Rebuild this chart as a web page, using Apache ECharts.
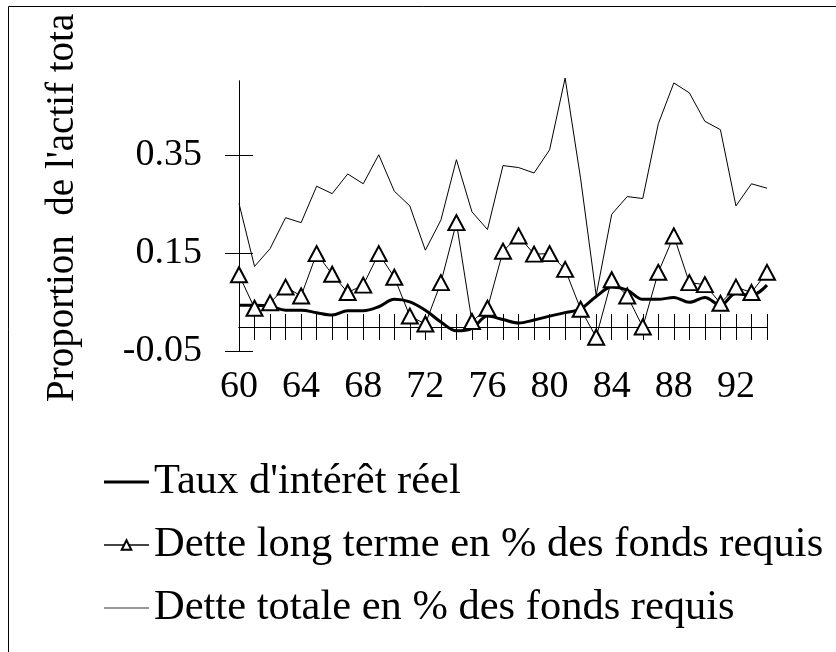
<!DOCTYPE html>
<html>
<head>
<meta charset="utf-8">
<script src="https://cdn.jsdelivr.net/npm/echarts@6/dist/echarts.min.js"></script>
<style>
html,body{margin:0;padding:0;background:#fff;}
#chart{width:836px;height:652px;}
</style>
</head>
<body>
<div id="chart"></div>
<script>
const years = ['60','61','62','63','64','65','66','67','68','69','70','71','72','73','74','75','76','77','78','79','80','81','82','83','84','85','86','87','88','89','90','91','92','93','94'];
const tauxReel = [0.044,0.044,0.042,0.034,0.034,0.029,0.024,0.033,0.033,0.041,0.056,0.051,0.034,0.010,-0.008,-0.003,0.022,0.015,0.008,0.014,0.022,0.029,0.037,0.062,0.081,0.075,0.056,0.056,0.060,0.050,0.060,0.044,0.068,0.064,0.085];
const detteLongTerme = [0.106,0.038,0.049,0.081,0.063,0.149,0.107,0.070,0.085,0.149,0.101,0.022,0.006,0.090,0.212,0.011,0.038,0.154,0.185,0.148,0.149,0.117,0.036,-0.021,0.096,0.063,0.000,0.111,0.185,0.090,0.086,0.048,0.081,0.070,0.111];
const detteTotale = [0.251,0.123,0.159,0.222,0.212,0.286,0.271,0.311,0.291,0.350,0.276,0.246,0.156,0.217,0.340,0.234,0.198,0.328,0.324,0.313,0.360,0.506,0.301,0.064,0.229,0.265,0.261,0.413,0.496,0.476,0.418,0.401,0.246,0.291,0.282];
const yTickValues = [-0.05, 0.15, 0.35];
const seriesNames = ["Taux d'intérêt réel", "Dette long terme en % des fonds requis", "Dette totale en % des fonds requis"];
const yTitle = "Proportion  de l'actif tota";

const FONT = 'Liberation Serif';
const chart = echarts.init(document.getElementById('chart'), null, {renderer: 'canvas'});

const option = {
  backgroundColor: '#fff',
  animation: false,
  textStyle: {fontFamily: FONT, color: '#000'},
  grid: {left: 239, right: 69, top: 81, height: 270.5, containLabel: false},
  xAxis: [
    {
      type: 'category', data: years, boundaryGap: false, position: 'bottom',
      axisLine: {onZero: true, lineStyle: {color: '#000', width: 1}},
      axisTick: {show: true, interval: 0, length: 13, lineStyle: {color: '#000', width: 1}},
      axisLabel: {interval: 3, margin: 17, fontSize: 38, fontFamily: FONT, color: '#000'},
      splitLine: {show: false}
    },
    {
      type: 'category', data: years, boundaryGap: false, position: 'top',
      axisLine: {onZero: true, lineStyle: {color: '#000', width: 1}},
      axisTick: {show: true, interval: 0, length: 13, lineStyle: {color: '#000', width: 1}},
      axisLabel: {show: false},
      splitLine: {show: false}
    }
  ],
  yAxis: [
    {
      type: 'value', min: -0.05, max: 0.5, position: 'left',
      axisLine: {show: true, lineStyle: {color: '#000', width: 1}},
      axisTick: {show: true, length: 14, customValues: yTickValues, lineStyle: {color: '#000', width: 1}},
      axisLabel: {customValues: yTickValues, margin: 37, fontSize: 38, fontFamily: FONT, color: '#000',
        formatter: v => v.toFixed(2)},
      splitLine: {show: false}
    },
    {
      type: 'value', min: -0.05, max: 0.5, position: 'left',
      axisLine: {show: true, lineStyle: {color: '#000', width: 1}},
      axisTick: {show: true, inside: true, length: 14, customValues: yTickValues, lineStyle: {color: '#000', width: 1}},
      axisLabel: {show: false},
      splitLine: {show: false}
    }
  ],
  legend: {
    orient: 'vertical', left: 98, top: 454,
    itemWidth: 45, itemHeight: 12, itemGap: 17,
    textStyle: {fontFamily: FONT, fontSize: 42.5, color: '#000', lineHeight: 46},
    data: [
      {name: seriesNames[0], icon: 'path://M0,0 M45,12 M0,4.5 h45 v3 h-45 z', itemStyle: {color: '#000', borderWidth: 0}},
      {name: seriesNames[1], lineStyle: {color: '#444'}},
      {name: seriesNames[2], icon: 'path://M0,0 M45,12 M0,5.5 h45 v1 h-45 z', itemStyle: {color: '#333', borderWidth: 0}}
    ]
  },
  series: [
    {
      name: seriesNames[0], type: 'line', data: tauxReel, xAxisIndex: 0, yAxisIndex: 0,
      symbol: 'none', smooth: 0.35, clip: false, z: 3,
      lineStyle: {color: '#000', width: 3}, itemStyle: {color: '#000'}
    },
    {
      name: seriesNames[1], type: 'line', data: detteLongTerme, xAxisIndex: 0, yAxisIndex: 0,
      symbol: 'triangle', symbolSize: [16, 15], showAllSymbol: true, clip: false, z: 4,
      lineStyle: {color: '#000', width: 1},
      itemStyle: {color: '#fff', borderColor: '#000', borderWidth: 2}
    },
    {
      name: seriesNames[2], type: 'line', data: detteTotale, xAxisIndex: 0, yAxisIndex: 0,
      symbol: 'none', clip: false, z: 2,
      lineStyle: {color: '#000', width: 1}, itemStyle: {color: '#000'}
    }
  ],
  graphic: [
    {type: 'rect', shape: {x: 8.5, y: 6.5, width: 900, height: 700}, style: {fill: 'none', stroke: '#000', lineWidth: 1}, z: 0, silent: true},
    {type: 'text', x: 63, y: 402, rotation: Math.PI / 2,
      style: {text: yTitle, fontFamily: FONT, fontSize: 39, fill: '#000', align: 'left', verticalAlign: 'middle'}}
  ]
};
chart.setOption(option);
</script>
</body>
</html>
